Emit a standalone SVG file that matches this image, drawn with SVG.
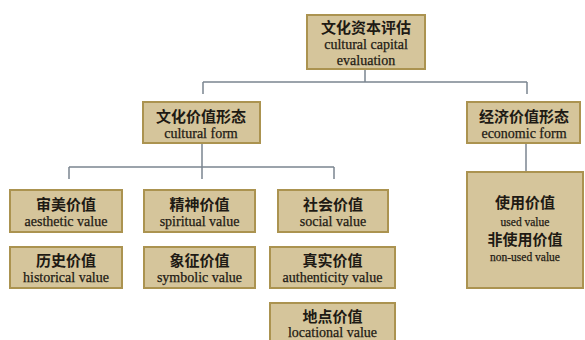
<svg xmlns="http://www.w3.org/2000/svg" width="585" height="340" viewBox="0 0 585 340">
<style>
.box{fill:#d5c59b;stroke:#ab9350;stroke-width:2}
.zh{font-family:"Noto Sans CJK SC","Noto Sans",sans-serif;font-weight:bold;font-size:15px;fill:#1e1a14;text-anchor:middle}
.en{font-family:"Liberation Serif","Times New Roman",serif;font-size:14px;fill:#1e1a14;stroke:#1e1a14;stroke-width:0.25;text-anchor:middle}
.sm{font-size:11.5px}
.c{fill:none;stroke:#7b8590;stroke-width:1.5}
</style>
<rect width="585" height="340" fill="#ffffff"/>
<g id="connectors">
<path class="c" d="M365 69V82M203 82H527M203 82V94M527 82V94"/>
<path class="c" d="M202 144V179M69 167H334M69 167V179M334 167V179"/>
<path class="c" d="M526 143V172"/>
</g>
<g id="root">
<rect class="box" x="307" y="15" width="118" height="54"/>
<text class="zh" x="366" y="33">文化资本评估</text>
<text class="en" x="366" y="49">cultural capital</text>
<text class="en" x="366" y="65">evaluation</text>
</g>
<g id="cultural">
<rect class="box" x="143" y="102" width="117" height="41"/>
<text class="zh" x="201" y="122">文化价值形态</text>
<text class="en" x="201" y="138">cultural form</text>
</g>
<g id="economic">
<rect class="box" x="467" y="102" width="113" height="41"/>
<text class="zh" x="524" y="122">经济价值形态</text>
<text class="en" x="524" y="138">economic form</text>
</g>
<g id="aesthetic">
<rect class="box" x="10" y="190" width="112" height="42"/>
<text class="zh" x="66" y="210">审美价值</text>
<text class="en" x="66" y="226">aesthetic value</text>
</g>
<g id="spiritual">
<rect class="box" x="144" y="190" width="111" height="42"/>
<text class="zh" x="199.5" y="210">精神价值</text>
<text class="en" x="199.5" y="226">spiritual value</text>
</g>
<g id="social">
<rect class="box" x="278" y="190" width="110" height="42"/>
<text class="zh" x="333" y="210">社会价值</text>
<text class="en" x="333" y="226">social value</text>
</g>
<g id="historical">
<rect class="box" x="10" y="247" width="112" height="41"/>
<text class="zh" x="66" y="266">历史价值</text>
<text class="en" x="66" y="282">historical value</text>
</g>
<g id="symbolic">
<rect class="box" x="144" y="247" width="111" height="41"/>
<text class="zh" x="199.5" y="266">象征价值</text>
<text class="en" x="199.5" y="282">symbolic value</text>
</g>
<g id="authenticity">
<rect class="box" x="270" y="247" width="125" height="41"/>
<text class="zh" x="332.5" y="266">真实价值</text>
<text class="en" x="332.5" y="282">authenticity value</text>
</g>
<g id="locational">
<rect class="box" x="270" y="303" width="125" height="44"/>
<text class="zh" x="332.5" y="322">地点价值</text>
<text class="en" x="332.5" y="337">locational value</text>
</g>
<g id="use">
<rect class="box" x="467" y="172" width="116" height="116"/>
<text class="zh" x="525" y="208">使用价值</text>
<text class="en sm" x="525" y="226">used value</text>
<text class="zh" x="525" y="245">非使用价值</text>
<text class="en sm" x="525" y="261">non-used value</text>
</g>
</svg>
